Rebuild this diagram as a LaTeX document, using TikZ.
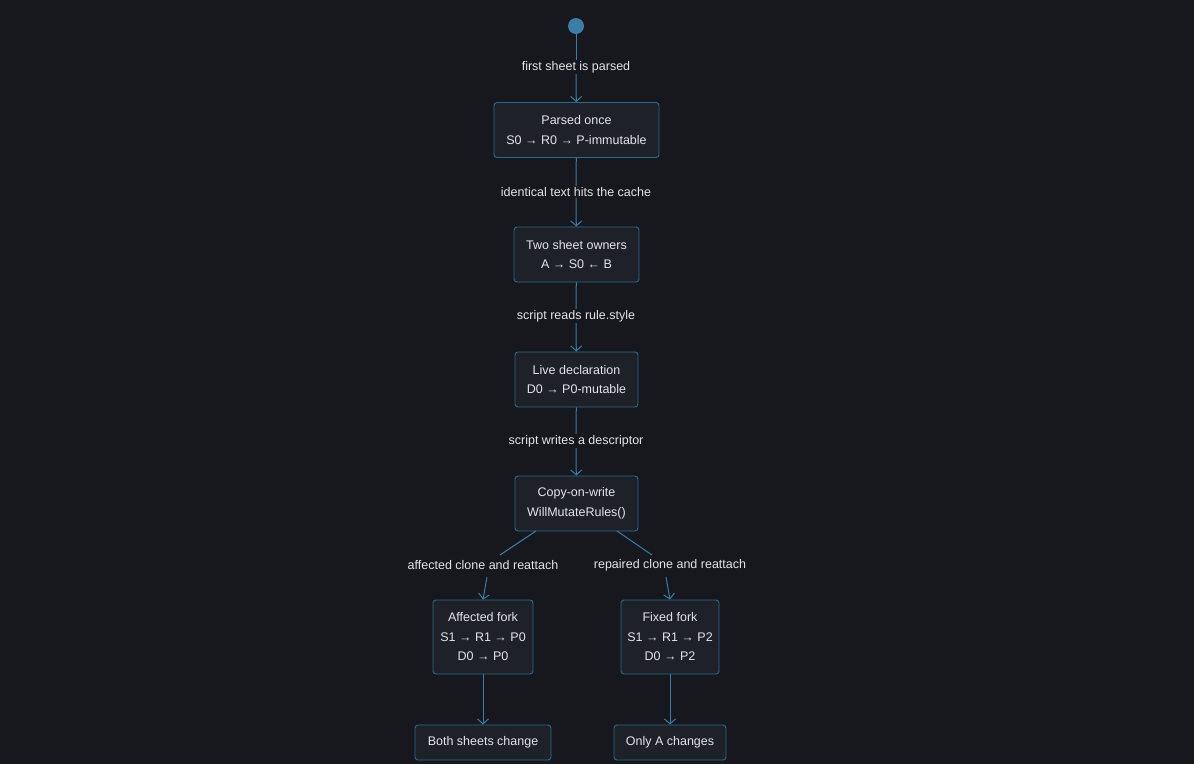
\documentclass[tikz,border=0pt]{standalone}
\usepackage{fontspec}
\setmainfont{Liberation Sans}
\usetikzlibrary{arrows.meta}
\definecolor{bg}{HTML}{16181D}
\definecolor{nfill}{HTML}{1E2128}
\definecolor{nline}{HTML}{2B6A90}
\definecolor{eline}{HTML}{3A7DA6}
\definecolor{txt}{HTML}{E2E4E8}
\begin{document}
\begin{tikzpicture}[x=1pt,y=-1pt,
  box/.style={draw=nline,fill=nfill,rounded corners=3pt,line width=0.9pt,text=txt,align=center,font=\fontsize{12.5}{19.5}\selectfont,inner sep=0pt},
  lbl/.style={text=txt,font=\fontsize{12.5}{15}\selectfont,inner sep=1pt},
  edge/.style={draw=eline,line width=1pt},
  arr/.style={edge,-{Straight Barb[length=5pt,width=11pt,line width=1pt]}}]
\fill[bg] (0,0) rectangle (1194,764);
\useasboundingbox (0,0) rectangle (1194,764);
\node[circle,fill=eline,minimum size=16pt,inner sep=0pt] (s) at (576,26) {};
\node[box,minimum width=165pt,minimum height=55pt] (p) at (576.5,130) {Parsed once\\S0 → R0 → P-immutable};
\node[box,minimum width=125pt,minimum height=55pt] (t) at (576.5,254.5) {Two sheet owners\\A → S0 ← B};
\node[box,minimum width=123pt,minimum height=55pt] (l) at (576.5,379.5) {Live declaration\\D0 → P0-mutable};
\node[box,minimum width=123pt,minimum height=55pt] (c) at (576.5,503.5) {Copy-on-write\\WillMutateRules()};
\node[box,minimum width=100pt,minimum height=74pt] (a) at (483,637) {Affected fork\\S1 → R1 → P0\\D0 → P0};
\node[box,minimum width=98pt,minimum height=74pt] (f) at (670,637) {Fixed fork\\S1 → R1 → P2\\D0 → P2};
\node[box,minimum width=136pt,minimum height=35pt] (b) at (483,742.5) {Both sheets change};
\node[box,minimum width=112pt,minimum height=35pt] (o) at (670,742.5) {Only A changes};
\node[lbl] (l1) at (576,67) {first sheet is parsed};
\node[lbl] (l2) at (576,192) {identical text hits the cache};
\node[lbl] (l3) at (576,316) {script reads rule.style};
\node[lbl] (l4) at (576,441) {script writes a descriptor};
\node[lbl] (l5) at (483,565) {affected clone and reattach};
\node[lbl] (l6) at (670,565) {repaired clone and reattach};
\draw[edge] (s) -- (l1);
\draw[arr] (l1) -- (p);
\draw[edge] (p) -- (l2);
\draw[arr] (l2) -- (t);
\draw[edge] (t) -- (l3);
\draw[arr] (l3) -- (l);
\draw[edge] (l) -- (l4);
\draw[arr] (l4) -- (c);
\coordinate (c1) at (536,531); \coordinate (c2) at (617,531);
\coordinate (m1) at (500,555); \coordinate (m2) at (652,555);
\coordinate (n1) at (487,577); \coordinate (n2) at (666,577);
\draw[edge] (c1) -- (m1);
\draw[edge] (c2) -- (m2);
\draw[arr] (n1) -- (a.north);
\draw[arr] (n2) -- (f.north);
\draw[arr] (a) -- (b);
\draw[arr] (f) -- (o);
\end{tikzpicture}
\end{document}
